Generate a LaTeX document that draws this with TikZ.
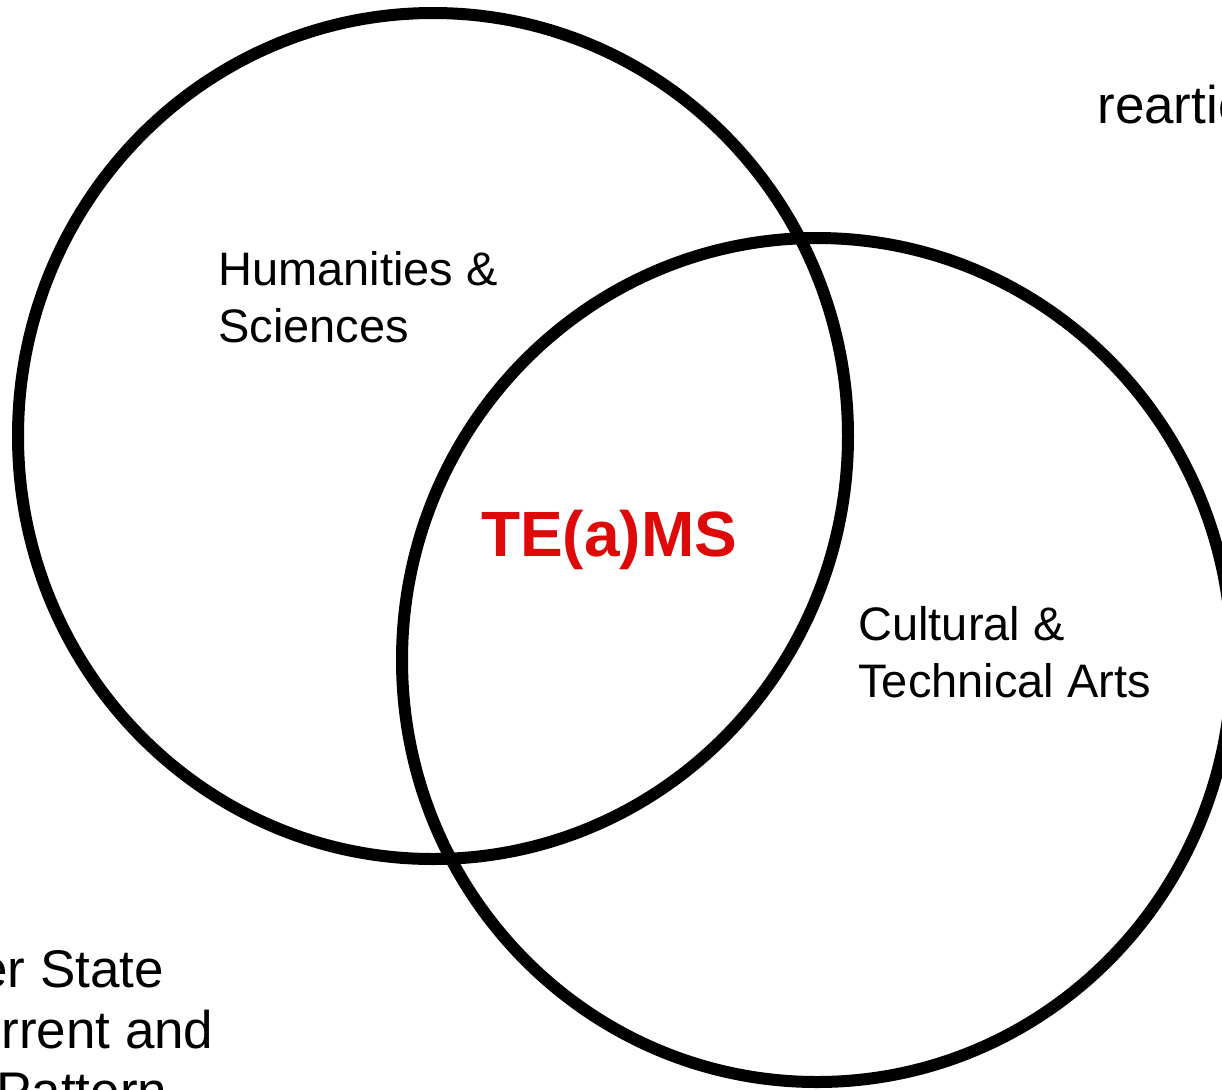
\documentclass[tikz,border=0pt]{standalone}
\usepackage{fontspec}
\setmainfont{Liberation Sans}
\usepackage{xcolor}
\usepackage{tikz}
\usetikzlibrary{positioning, calc}
\definecolor{teamsred}{RGB}{222, 10, 10}
\definecolor{ringblack}{RGB}{0, 0, 0}

\tikzset{
    ring/.style={draw=ringblack, line width=6pt},
    fieldlabel/.style={anchor=base west, inner sep=0pt, align=left,
          font=\fontsize{23.5}{28.5}\selectfont},
    edgetext/.style={anchor=base west, inner sep=0pt,
          font=\fontsize{26.5}{30.5}\selectfont}
}

\begin{document}
\begin{tikzpicture}[x=0.5pt, y=-0.5pt]
    \fill[white] (0,0) rectangle (1222,1089);
    \useasboundingbox (0,0) rectangle (1222,1089);

    % the two circles
    \coordinate (humcentre) at (433,436);
    \coordinate (artcentre) at (817,660);
    \draw[ring] (humcentre) ellipse [x radius=207.5pt, y radius=211.5pt];
    \draw[ring] (artcentre) ellipse [x radius=207.5pt, y radius=211pt];

    % labels (base = last line)
    \node[fieldlabel] (humanities) at (218,342) {Humanities \&\\Sciences};
    \node[fieldlabel] (cultural) at (858,697) {Cultural \&\\Technical Arts};
    \node[anchor=base, inner sep=0pt, text=teamsred,
          font=\fontsize{32}{38}\selectfont\bfseries] (teams) at (609,556) {TE(a)MS};

    % text cut off by the page edge
    \node[edgetext] (rearticulate) at (1097,123) {reartic};
    \node[edgetext] (statetext) at (-22,987) {er State};
    \node[edgetext] (currenttext) at (1,1048) {rrent and};
    \node[edgetext] (patterntext) at (-4,1109) {Pattern};
\end{tikzpicture}
\end{document}
